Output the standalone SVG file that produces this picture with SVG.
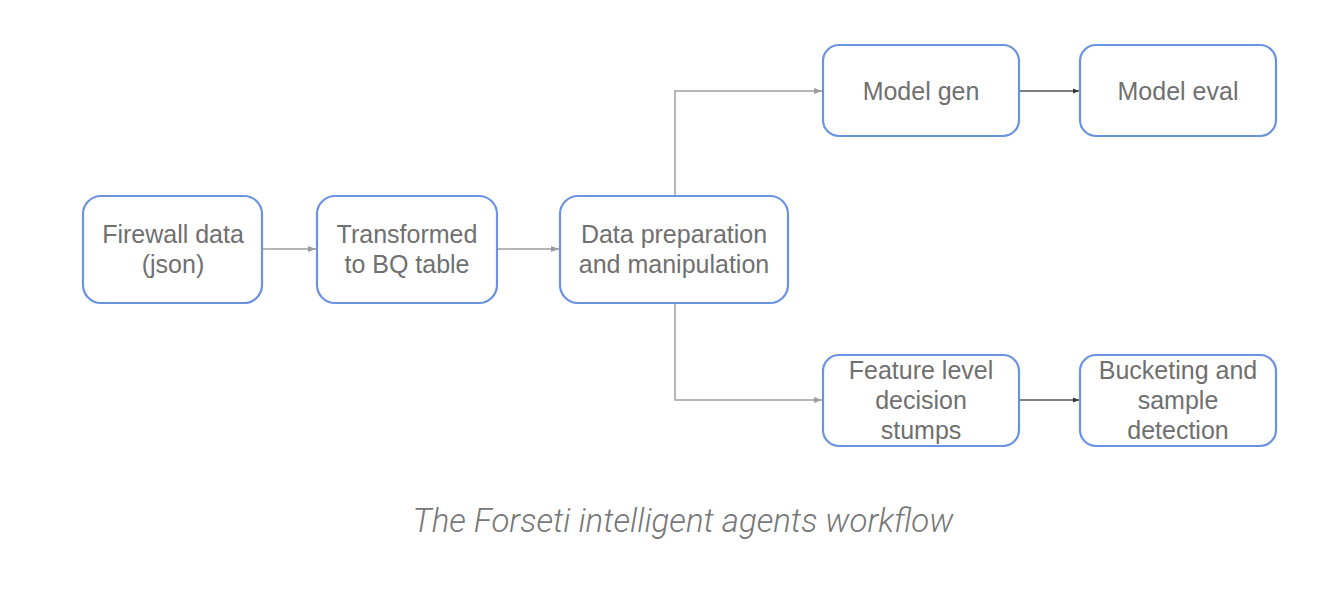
<svg xmlns="http://www.w3.org/2000/svg" width="1338" height="594" viewBox="0 0 1338 594">
<style>
.box{fill:#fff;stroke:#6b93e0;stroke-width:2.2}
.lbl{font-family:"Liberation Sans",Arial,sans-serif;font-size:25px;fill:#707070;text-anchor:middle}
.con{fill:none;stroke:#9e9e9e;stroke-width:1.5}
.con2{fill:none;stroke:#555;stroke-width:1.3}
.cap{font-family:Roboto,"Liberation Sans",sans-serif;font-weight:300;font-style:italic;font-size:33px;fill:#777;text-anchor:middle}
</style>
<defs>
<marker id="ag" markerWidth="8" markerHeight="8" refX="8" refY="4" orient="auto" markerUnits="userSpaceOnUse"><path d="M0,1 L8,4 L0,7 Z" fill="#9e9e9e"/></marker>
<marker id="ad" markerWidth="6" markerHeight="6" refX="6" refY="3" orient="auto" markerUnits="userSpaceOnUse"><path d="M0,0.5 L6,3 L0,5.5 Z" fill="#333"/></marker>
</defs>
<rect width="1338" height="594" fill="#fff"/>
<g id="connectors">
<path class="con" d="M263,249 H316" marker-end="url(#ag)"/>
<path class="con" d="M497,249 H559" marker-end="url(#ag)"/>
<path class="con" d="M675,196 V91 H822" marker-end="url(#ag)"/>
<path class="con" d="M675,303 V400 H822" marker-end="url(#ag)"/>
<path class="con2" d="M1019,91 H1079" marker-end="url(#ad)"/>
<path class="con2" d="M1019,400 H1079" marker-end="url(#ad)"/>
</g>
<g id="firewall">
<rect class="box" x="83" y="196" width="179" height="107" rx="18"/>
<text class="lbl" x="173" y="243">Firewall data</text>
<text class="lbl" x="173" y="273">(json)</text>
</g>
<g id="transformed">
<rect class="box" x="317" y="196" width="180" height="107" rx="18"/>
<text class="lbl" x="407" y="243">Transformed</text>
<text class="lbl" x="407" y="273">to BQ table</text>
</g>
<g id="dataprep">
<rect class="box" x="560" y="196" width="228" height="107" rx="18"/>
<text class="lbl" x="674" y="243">Data preparation</text>
<text class="lbl" x="674" y="273">and manipulation</text>
</g>
<g id="modelgen">
<rect class="box" x="823" y="45" width="196" height="91" rx="16"/>
<text class="lbl" x="921" y="100">Model gen</text>
</g>
<g id="modeleval">
<rect class="box" x="1080" y="45" width="196" height="91" rx="16"/>
<text class="lbl" x="1178" y="100">Model eval</text>
</g>
<g id="feature">
<rect class="box" x="823" y="355" width="196" height="91" rx="16"/>
<text class="lbl" x="921" y="379">Feature level</text>
<text class="lbl" x="921" y="409">decision</text>
<text class="lbl" x="921" y="439">stumps</text>
</g>
<g id="bucketing">
<rect class="box" x="1080" y="355" width="196" height="91" rx="16"/>
<text class="lbl" x="1178" y="379">Bucketing and</text>
<text class="lbl" x="1178" y="409">sample</text>
<text class="lbl" x="1178" y="439">detection</text>
</g>
<text class="cap" x="683" y="532">The Forseti intelligent agents workflow</text>
</svg>
